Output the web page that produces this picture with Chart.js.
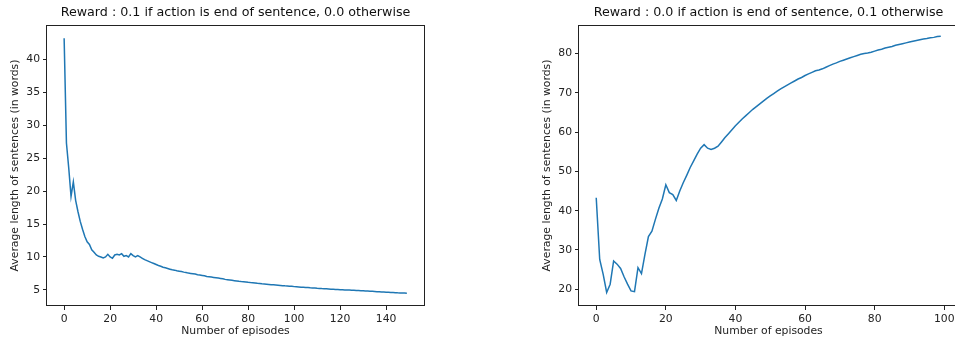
<!DOCTYPE html>
<html>
<head>
<meta charset="utf-8">
<script src="https://cdn.jsdelivr.net/npm/chart.js@4"></script>
<style>
html,body{margin:0;padding:0;background:#fff;overflow:hidden;width:955px;height:338px;}
canvas{position:absolute;top:0;}
#c1{left:0;}
#c2{left:532px;}
</style>
</head>
<body>
<canvas id="c1" width="430" height="338"></canvas>
<canvas id="c2" width="428" height="338"></canvas>
<script>
// reward 0.1 at end of sentence
const lenEnd=[43.2,27.3,23.5,19.2,21.4,18.6,16.9,15.4,14.2,13.1,12.3,11.9,11.1,10.7,10.3,10.1,10.0,9.85,10.0,10.4,
10.0,9.8,10.3,10.4,10.3,10.5,10.1,10.2,10.0,10.5,10.2,10.0,10.2,10.0,9.8,9.6,9.45,9.3,9.15,9.0,
8.85,8.7,8.6,8.45,8.35,8.25,8.15,8.05,8.0,7.9,7.85,7.8,7.7,7.65,7.55,7.5,7.45,7.4,7.3,7.25,
7.2,7.15,7.05,7.0,6.95,6.9,6.85,6.8,6.75,6.7,6.6,6.55,6.5,6.45,6.4,6.35,6.3,6.27,6.25,6.2,
6.15,6.12,6.1,6.05,6.0,5.97,5.93,5.9,5.87,5.84,5.8,5.77,5.74,5.71,5.68,5.65,5.62,5.6,5.57,5.54,
5.5,5.48,5.45,5.42,5.4,5.37,5.35,5.32,5.3,5.28,5.25,5.23,5.2,5.18,5.16,5.14,5.12,5.1,5.08,5.06,
5.04,5.02,5.0,4.99,4.98,4.96,4.94,4.92,4.9,4.88,4.86,4.84,4.82,4.8,4.78,4.76,4.74,4.72,4.7,4.68,
4.66,4.64,4.62,4.6,4.58,4.56,4.55,4.53,4.52,4.5];
// reward 0.1 otherwise
const lenOther=[43.3,27.6,23.8,19.2,21.3,27.2,26.4,25.3,23.2,21.3,19.6,19.4,25.5,24.0,28.9,33.4,34.8,37.8,40.6,43.0,
46.6,44.6,44.1,42.6,45.0,47.1,49.0,51.0,52.7,54.4,55.9,56.8,55.9,55.6,55.9,56.4,57.5,58.6,59.6,60.6,
61.6,62.5,63.4,64.2,65.0,65.8,66.5,67.2,67.9,68.6,69.2,69.8,70.4,71.0,71.5,72.0,72.5,73.0,73.5,73.9,
74.4,74.8,75.2,75.6,75.8,76.1,76.5,76.9,77.3,77.6,78.0,78.3,78.6,78.9,79.2,79.5,79.8,80.0,80.1,80.3,
80.6,80.9,81.1,81.4,81.6,81.8,82.1,82.3,82.5,82.7,82.9,83.1,83.3,83.5,83.7,83.8,84.0,84.1,84.3,84.4];

const xTicks1=[0,20,40,60,80,100,120,140];
const yTicks1=[5,10,15,20,25,30,35,40];
const xTicks2=[0,20,40,60,80,100];
const yTicks2=[20,30,40,50,60,70,80];

const title1="Reward : 0.1 if action is end of sentence, 0.0 otherwise";
const title2="Reward : 0.0 if action is end of sentence, 0.1 otherwise";
const xLabel="Number of episodes";
const yLabel="Average length of sentences (in words)";

const font={family:"'DejaVu Sans', sans-serif",size:10.8};

const spines={
  id:"spines",
  afterDatasetsDraw(chart){
    const a=chart.chartArea, c=chart.ctx;
    c.save();
    c.strokeStyle="#222";
    c.lineWidth=1;
    c.strokeRect(Math.round(a.left)-0.5,Math.round(a.top)+0.5,Math.round(a.right-a.left)+1,Math.round(a.bottom-a.top)-1);
    c.restore();
  }
};

function axis(min,max,ticks,label,isY){
  return {
    type:"linear",min:min,max:max,
    afterBuildTicks:(s)=>{s.ticks=ticks.map(v=>({value:v}));},
    afterFit:(s)=>{ if(isY) s.width=47; else s.height=32; },
    grid:{drawOnChartArea:false,drawTicks:true,tickLength:4,tickColor:"#222",tickWidth:1},
    border:{display:false},
    ticks:{color:"#222",font:font,padding:3,maxRotation:0,autoSkip:false},
    title:{display:true,text:label,color:"#222",font:font,
      padding:isY?{top:8.5,bottom:0}:{top:0,bottom:0}}
  };
}

function makeChart(id,vals,title,xr,yr,xt,yt,padRight){
  return new Chart(document.getElementById(id),{
    type:"line",
    data:{datasets:[{
      data:vals.map((v,i)=>({x:i,y:v})),
      borderColor:"#1f77b4",borderWidth:1.5,pointRadius:0,tension:0,fill:false
    }]},
    options:{
      responsive:false,animation:false,
      layout:{padding:{left:0,right:padRight,top:0,bottom:0}},
      plugins:{
        legend:{display:false},tooltip:{enabled:false},
        title:{display:true,text:title,fullSize:false,color:"#111",
          font:{family:"'DejaVu Sans', sans-serif",size:12.7,weight:"normal"},
          padding:{top:5.4,bottom:4.36}}
      },
      scales:{
        x:axis(xr[0],xr[1],xt,xLabel,false),
        y:axis(yr[0],yr[1],yt,yLabel,true)
      }
    },
    plugins:[spines]
  });
}

makeChart("c1",lenEnd,title1,[-7.45,156.45],[2.56,45.2],xTicks1,yTicks1,6);
makeChart("c2",lenOther,title2,[-4.95,103.95],[15.75,87.25],xTicks2,yTicks2,2);
</script>
</body>
</html>
